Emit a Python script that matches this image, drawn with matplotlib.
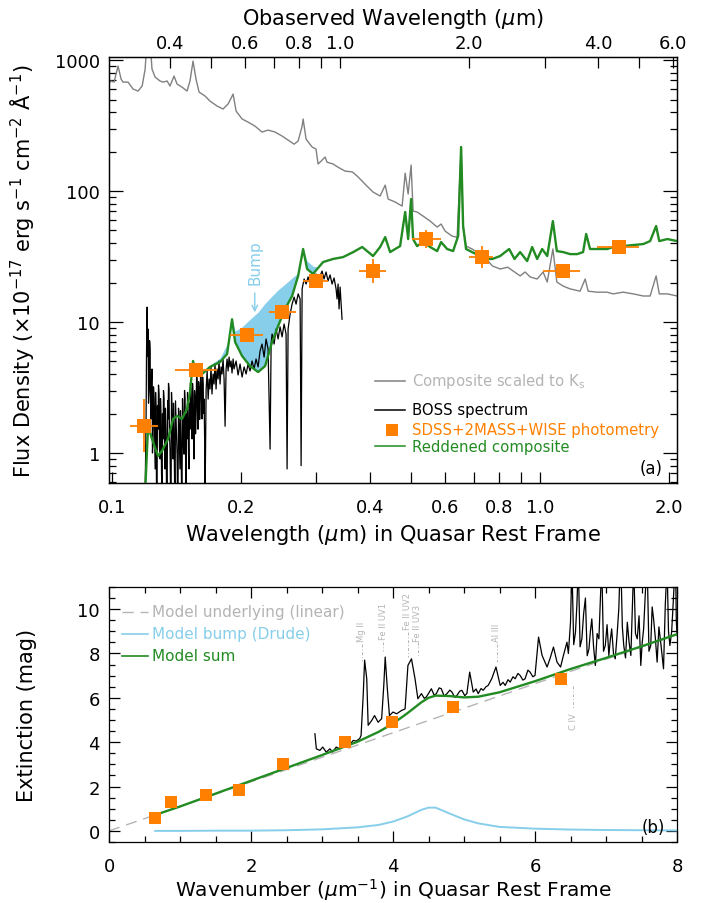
import numpy as np
import matplotlib.pyplot as plt
from matplotlib.ticker import FixedLocator, NullFormatter, NullLocator, MultipleLocator

plt.rcParams['font.family'] = ['DejaVu Sans']
plt.rcParams['axes.linewidth'] = 0.9

GREEN = '#228b22'
ORANGE = '#ff8000'
SKY = '#87ceeb'
GREY = '#808080'
LIGHT = '#b4b4b4'

z_qso = 1.93

# composite quasar spectrum scaled to Ks (rest wavelength in micron)
comp_wl = [0.0979, 0.0995, 0.1011, 0.1033, 0.1050, 0.1061, 0.1090, 0.1120, 0.1150, 0.1176,
           0.1195, 0.1208, 0.1227, 0.1240, 0.1261, 0.1295, 0.1316, 0.1345, 0.1366, 0.1396,
           0.1419, 0.1457, 0.1497, 0.1521, 0.1546, 0.1571, 0.1597, 0.1650, 0.1694, 0.1759,
           0.1817, 0.1867, 0.1918, 0.1949, 0.2013, 0.2079, 0.2158, 0.2241, 0.2315, 0.2404,
           0.2496, 0.2578, 0.2663, 0.2721, 0.2780, 0.2795, 0.2840, 0.2933, 0.2996, 0.3029,
           0.3078, 0.3145, 0.3179, 0.3283, 0.3373, 0.3504, 0.3641, 0.3739, 0.3840, 0.3942,
           0.4071, 0.4229, 0.4346, 0.4416, 0.4586, 0.4761, 0.4839, 0.4917, 0.4996, 0.5050,
           0.5159, 0.5328, 0.5534, 0.5747, 0.5871, 0.5997, 0.6228, 0.6399, 0.6538, 0.6608,
           0.6714, 0.6933, 0.7241, 0.7489, 0.7736, 0.8064, 0.8401, 0.8713, 0.8980, 0.9225,
           0.9476, 0.9840, 1.016, 1.039, 1.071, 1.094, 1.132, 1.175, 1.240, 1.274,
           1.295, 1.359, 1.434, 1.480, 1.563, 1.650, 1.742, 1.807, 1.866, 1.898,
           1.982, 2.089]
comp_flux = [656, 692, 679, 900, 716, 679, 679, 601, 580, 634,
             853, 1500, 1400, 853, 741, 692, 679, 692, 634, 755,
             656, 622, 580, 692, 982, 716, 570, 531, 486, 446,
             423, 462, 550, 408, 355, 336, 313, 282, 292, 282,
             263, 245, 228, 241, 313, 355, 249, 217, 209, 161,
             169, 182, 166, 161, 152, 142, 140, 130, 119, 109,
             98.3, 91.6, 111, 86.9, 82.4, 76.8, 137, 94.9, 158, 70.3,
             69.2, 64.4, 59.0, 53.1, 56.0, 49.5, 45.3, 44.3, 209, 54.1,
             38.0, 36.1, 33.0, 30.3, 26.8, 25.4, 26.2, 24.1, 22.5, 24.1,
             22.1, 21.3, 24.1, 20.2, 36.1, 20.2, 18.8, 17.9, 17.2, 21.3,
             17.2, 16.9, 16.9, 16.4, 16.9, 16.4, 15.8, 15.8, 22.5, 16.4,
             16.4, 15.8]

# BOSS spectrum
boss_wl = [0.1195, 0.1198, 0.1201, 0.1204, 0.1208, 0.1211, 0.1214, 0.1217, 0.1221, 0.1224,
           0.1227, 0.1230, 0.1234, 0.1237, 0.1240, 0.1243, 0.1247, 0.1250, 0.1254, 0.1257,
           0.1261, 0.1264, 0.1267, 0.1270, 0.1274, 0.1277, 0.1281, 0.1284, 0.1288, 0.1291,
           0.1295, 0.1298, 0.1302, 0.1305, 0.1309, 0.1312, 0.1316, 0.1319, 0.1323, 0.1326,
           0.1330, 0.1333, 0.1337, 0.1341, 0.1345, 0.1349, 0.1352, 0.1355, 0.1359, 0.1362,
           0.1366, 0.1370, 0.1374, 0.1377, 0.1381, 0.1385, 0.1389, 0.1392, 0.1396, 0.1400,
           0.1404, 0.1407, 0.1411, 0.1415, 0.1419, 0.1422, 0.1426, 0.1430, 0.1434, 0.1438,
           0.1441, 0.1445, 0.1449, 0.1453, 0.1457, 0.1461, 0.1465, 0.1469, 0.1473, 0.1477,
           0.1481, 0.1485, 0.1489, 0.1493, 0.1497, 0.1501, 0.1505, 0.1509, 0.1513, 0.1517,
           0.1521, 0.1525, 0.1529, 0.1534, 0.1538, 0.1542, 0.1546, 0.1550, 0.1554, 0.1559,
           0.1563, 0.1567, 0.1571, 0.1576, 0.1580, 0.1584, 0.1588, 0.1593, 0.1597, 0.1602,
           0.1606, 0.1610, 0.1614, 0.1619, 0.1623, 0.1628, 0.1632, 0.1637, 0.1641, 0.1646,
           0.1650, 0.1659, 0.1668, 0.1677, 0.1686, 0.1694, 0.1703, 0.1712, 0.1722, 0.1731,
           0.1740, 0.1750, 0.1759, 0.1769, 0.1778, 0.1788, 0.1798, 0.1807, 0.1817, 0.1827,
           0.1837, 0.1847, 0.1857, 0.1867, 0.1877, 0.1887, 0.1897, 0.1907, 0.1918, 0.1928,
           0.1949, 0.1970, 0.1991, 0.2013, 0.2035, 0.2057, 0.2079, 0.2101, 0.2124, 0.2147,
           0.2170, 0.2194, 0.2217, 0.2241, 0.2266, 0.2290, 0.2315, 0.2340, 0.2353, 0.2365,
           0.2391, 0.2417, 0.2443, 0.2469, 0.2496, 0.2523, 0.2550, 0.2564, 0.2578, 0.2606,
           0.2634, 0.2663, 0.2691, 0.2721, 0.2750, 0.2765, 0.2780, 0.2810, 0.2840, 0.2871,
           0.2901, 0.2933, 0.2964, 0.2996, 0.3029, 0.3062, 0.3095, 0.3128, 0.3162, 0.3196,
           0.3231, 0.3266, 0.3301, 0.3337, 0.3355, 0.3373, 0.3391, 0.3410, 0.3428, 0.3446]
boss_flux = [0.5, 0.9, 1.82, 6.0, 13.0, 5.5, 8.85, 2.4, 3.08, 7.2,
             6.22, 2.9, 1.82, 3.5, 4.38, 1.0, 1.28, 3.2, 2.58, 1.6,
             0.755, 2.9, 2.17, 0.6, 0.5, 2.3, 1.52, 3.3, 2.82, 1.1,
             0.90, 2.6, 1.82, 0.7, 0.5, 2.0, 1.28, 3.0, 2.58, 1.2,
             0.755, 2.2, 1.52, 0.5, 0.5, 2.5, 1.82, 3.4, 3.08, 1.4,
             1.07, 0.5, 0.5, 2.9, 2.17, 1.2, 0.90, 2.4, 1.52, 0.6,
             0.5, 2.5, 1.82, 1.3, 0.98, 0.5, 0.5, 2.2, 1.66, 1.0,
             0.755, 2.1, 1.28, 0.6, 0.5, 2.6, 1.82, 1.1, 0.98, 3.0,
             2.58, 1.0, 0.5, 2.0, 1.28, 2.9, 1.98, 1.0, 0.755, 2.4,
             1.52, 3.4, 3.08, 1.6, 1.28, 3.4, 2.82, 1.4, 0.90, 3.0,
             2.58, 1.4, 1.82, 3.9, 3.67, 2.0, 1.52, 3.5, 3.08, 1.8,
             2.17, 4.2, 4.01, 2.4, 1.82, 3.8, 3.36, 2.0, 2.58, 1.2,
             0.5, 3.08, 4.23, 2.58, 3.67, 3.08, 4.54, 2.82, 4.01, 3.36,
             4.78, 3.08, 4.38, 3.67, 5.04, 3.36, 4.54, 4.01, 5.22, 3.67,
             1.60, 4.38, 5.22, 4.23, 5.40, 4.54, 5.04, 4.08, 5.22, 4.38,
             5.04, 3.94, 4.78, 3.80, 4.54, 4.01, 4.78, 4.23, 5.04, 4.38,
             5.22, 4.54, 6.00, 6.79, 5.40, 7.42, 6.22, 1.07, 6.79, 8.10,
             6.79, 8.85, 7.42, 9.18, 7.7, 9.66, 8.10, 0.755, 8.85, 11.5,
             13.7, 15.5, 13.7, 16.4, 15.0, 0.80, 17.9, 21.3, 19.5, 22.1,
             19.5, 22.9, 20.6, 23.3, 20.2, 22.5, 24.5, 21.3, 24.1, 20.6,
             22.9, 19.5, 21.7, 17.9, 15.0, 19.5, 12.6, 18.5, 13.7, 10.5]

# reddened composite
red_wl = [0.1195, 0.1214, 0.1240, 0.1281, 0.1309, 0.1352, 0.1389, 0.1419, 0.1457, 0.1497,
          0.1521, 0.1546, 0.1580, 0.1623, 0.1694, 0.1788, 0.1857, 0.1907, 0.1939, 0.2013,
          0.2101, 0.2194, 0.2278, 0.2365, 0.2443, 0.2537, 0.2634, 0.2721, 0.2795, 0.2856,
          0.2948, 0.3112, 0.3283, 0.3464, 0.3660, 0.3840, 0.4071, 0.4229, 0.4346, 0.4462,
          0.4586, 0.4709, 0.4839, 0.4917, 0.4996, 0.5050, 0.5159, 0.5328, 0.5534, 0.5747,
          0.5871, 0.6064, 0.6261, 0.6434, 0.6538, 0.6608, 0.6714, 0.6933, 0.7241, 0.7489,
          0.7736, 0.8064, 0.8466, 0.8713, 0.8980, 0.9327, 0.9580, 0.9840, 1.011, 1.039,
          1.071, 1.094, 1.132, 1.175, 1.220, 1.260, 1.281, 1.308, 1.359, 1.434,
          1.480, 1.563, 1.650, 1.742, 1.807, 1.866, 1.898, 1.982, 2.089]
red_flux = [0.5, 1.61, 1.28, 0.948, 1.04, 1.28, 1.82, 1.92, 1.82, 2.17,
            2.92, 5.04, 3.87, 4.01, 4.54, 4.95, 5.70, 10.5, 7.03, 5.50,
            4.61, 4.15, 4.61, 7.03, 9.32, 12.6, 15.8, 22.5, 36.1, 25.4,
            23.3, 28.7, 30.3, 31.3, 34.2, 37.4, 31.9, 37.4, 44.5, 34.2,
            36.1, 38.0, 69.2, 43.0, 86.9, 43.0, 38.0, 40.8, 37.4, 34.8,
            40.8, 36.1, 34.8, 45.3, 217, 54.1, 36.1, 34.2, 31.9, 30.3,
            30.3, 31.9, 36.1, 30.3, 34.2, 29.2, 37.4, 30.3, 36.1, 31.9,
            59.0, 34.8, 34.2, 33.0, 33.0, 34.2, 47.0, 36.1, 36.1, 36.1,
            37.4, 38.0, 38.7, 39.4, 41.5, 54.1, 41.5, 43.0, 41.5]

# 2175A bump region: composite without bump (upper) vs reddened composite (lower)
bump_wl = [0.1694, 0.1788, 0.1857, 0.1907, 0.1939, 0.2013, 0.2101, 0.2194, 0.2278, 0.2365,
           0.2443, 0.2537, 0.2634, 0.2721, 0.2795, 0.2856, 0.2948, 0.3029]
bump_lower = [4.54, 4.95, 5.70, 10.5, 7.03, 5.50, 4.61, 4.15, 4.61, 7.03,
              9.32, 12.6, 15.8, 22.5, 36.1, 25.4, 23.3, 26.2]
bump_upper = [4.70, 5.31, 6.79, 10.5, 8.54, 9.18, 10.5, 11.9, 13.9, 15.8,
              17.6, 19.5, 21.7, 23.7, 36.1, 29.2, 26.7, 26.2]

# SDSS + 2MASS + WISE photometry
phot_wl = [0.1188, 0.1571, 0.2068, 0.2496, 0.2996, 0.4071, 0.5416, 0.7319, 1.132, 1.530]
phot_wl_lo = [0.1102, 0.1404, 0.1887, 0.2328, 0.2795, 0.3776, 0.5023, 0.6825, 1.016, 1.359]
phot_wl_hi = [0.1281, 0.1759, 0.2253, 0.2691, 0.3196, 0.4370, 0.5871, 0.7766, 1.240, 1.703]
phot_flux = [1.61, 4.30, 7.95, 11.9, 20.6, 24.5, 43.0, 31.3, 24.5, 37.3]
phot_flux_lo = [1.02, 4.10, 7.60, 11.4, 19.8, 19.9, 36.7, 25.8, 23.5, 36.0]
phot_flux_hi = [2.58, 4.50, 8.30, 12.4, 21.4, 30.3, 50.4, 38.1, 25.5, 38.6]

# extinction curve (panel b)
ext_spec_wn = [2.90, 2.92, 2.97, 3.01, 3.06, 3.11, 3.15, 3.20, 3.25, 3.30,
               3.34, 3.39, 3.44, 3.48, 3.53, 3.55, 3.58, 3.60, 3.63, 3.65,
               3.70, 3.74, 3.79, 3.84, 3.87, 3.89, 3.92, 3.95, 4.00, 4.05,
               4.12, 4.17, 4.21, 4.26, 4.31, 4.35, 4.40, 4.44, 4.47, 4.51,
               4.54, 4.58, 4.61, 4.65, 4.68, 4.72, 4.76, 4.80, 4.83, 4.87,
               4.90, 4.94, 4.97, 5.01, 5.04, 5.08, 5.13, 5.17, 5.20, 5.24,
               5.27, 5.31, 5.34, 5.39, 5.45, 5.51, 5.55, 5.58, 5.62, 5.65,
               5.69, 5.72, 5.76, 5.79, 5.83, 5.86, 5.90, 5.93, 5.97, 6.00,
               6.05, 6.10, 6.17, 6.21, 6.26, 6.31, 6.36, 6.40, 6.45, 6.47,
               6.50, 6.51, 6.52, 6.545, 6.57, 6.59, 6.61, 6.635, 6.66, 6.685,
               6.71, 6.735, 6.76, 6.78, 6.80, 6.825, 6.85, 6.875, 6.90, 6.92,
               6.94, 6.965, 6.99, 7.015, 7.04, 7.06, 7.08, 7.105, 7.13, 7.155,
               7.18, 7.195, 7.21, 7.23, 7.25, 7.275, 7.30, 7.325, 7.35, 7.37,
               7.39, 7.415, 7.44, 7.465, 7.49, 7.51, 7.53, 7.555, 7.58, 7.605,
               7.63, 7.65, 7.67, 7.695, 7.72, 7.745, 7.77, 7.79, 7.81, 7.835,
               7.86, 7.88, 7.90, 7.925, 7.95, 7.965, 7.98, 7.99, 8.00]
ext_spec_mag = [4.38, 3.70, 3.63, 3.78, 3.55, 3.70, 3.56, 3.78, 3.70, 3.86,
                3.93, 3.88, 4.08, 4.05, 4.16, 4.30, 6.10, 7.70, 6.86, 4.76,
                4.98, 5.20, 4.90, 5.06, 6.56, 7.84, 6.41, 5.20, 5.36, 5.28,
                5.43, 5.50, 7.46, 7.76, 6.86, 5.96, 6.19, 5.98, 6.04, 6.25,
                6.41, 6.12, 6.19, 6.45, 6.41, 6.08, 6.19, 6.35, 6.26, 6.02,
                6.11, 6.30, 6.34, 6.10, 6.19, 7.16, 6.26, 6.40, 6.19, 6.42,
                6.34, 6.50, 6.56, 6.86, 7.39, 6.56, 6.70, 6.56, 6.82, 6.71,
                6.95, 6.86, 7.10, 7.01, 6.80, 6.86, 7.25, 7.16, 6.95, 7.01,
                8.74, 7.91, 7.39, 7.76, 8.29, 7.61, 7.39, 7.91, 8.51, 8.00,
                9.41, 10.8, 12.0, 8.40, 8.96, 10.2, 12.0, 8.30, 8.66, 9.80,
                10.5, 7.90, 8.21, 9.00, 9.56, 8.30, 7.46, 8.90, 8.66, 10.4,
                12.0, 8.10, 8.36, 9.30, 7.91, 8.60, 9.11, 8.00, 7.76, 8.80,
                10.0, 11.5, 12.0, 9.20, 8.36, 7.80, 9.41, 8.50, 7.91, 10.0,
                12.0, 8.90, 8.66, 9.70, 7.46, 8.50, 9.11, 10.8, 12.0, 8.10,
                8.36, 10.1, 9.56, 8.70, 7.61, 9.20, 8.51, 7.90, 7.31, 10.2,
                12.0, 9.00, 8.36, 9.00, 10.5, 11.5, 12.0, 9.50, 8.81]

ext_phot_wn = [0.645, 0.87, 1.37, 1.83, 2.45, 3.33, 3.98, 4.84, 6.36]
ext_phot_mag = [0.59, 1.31, 1.64, 1.86, 3.03, 4.01, 4.91, 5.59, 6.86]

linear_wn = [0.0, 8.0]
linear_mag = [0.0, 8.85]

model_wn = [0.65, 1.0, 1.5, 2.0, 2.5, 3.0, 3.5, 3.8, 4.0, 4.2, 4.4,
            4.5, 4.6, 4.8, 5.0, 5.2, 5.5, 6.0, 6.5, 7.0, 7.5, 8.0]
model_bump = [0.0, 0.0, 0.01, 0.01, 0.03, 0.07, 0.16, 0.27, 0.42, 0.65, 0.95,
              1.05, 1.05, 0.78, 0.52, 0.34, 0.18, 0.10, 0.06, 0.04, 0.03, 0.02]
model_sum = [0.72, 1.10, 1.68, 2.26, 2.84, 3.42, 4.02, 4.47, 4.84, 5.30, 5.80,
             6.00, 6.10, 6.08, 6.02, 6.05, 6.25, 6.75, 7.30, 7.80, 8.32, 8.87]

line_names = ['Mg II', 'Fe II UV1', 'Fe II UV2', 'Fe II UV3', 'Al III', 'C IV']
line_wn = [3.56, 3.86, 4.21, 4.35, 5.46, 6.54]

x_ticks = [0.1, 0.2, 0.3, 0.4, 0.5, 0.6, 0.7, 0.8, 0.9, 1.0, 2.0]
x_ticklabels = ['0.1', '0.2', '', '0.4', '', '0.6', '', '0.8', '', '1.0', '2.0']
obs_ticks = [0.4, 0.5, 0.6, 0.7, 0.8, 0.9, 1.0, 2.0, 3.0, 4.0, 5.0, 6.0]
obs_ticklabels = ['0.4', '', '0.6', '', '0.8', '', '1.0', '2.0', '', '4.0', '', '6.0']

fig = plt.figure(figsize=(7.02, 9.04), dpi=100)
ax = fig.add_axes([0.1553, 0.4646, 0.8091, 0.4712])
ax2 = fig.add_axes([0.1553, 0.0675, 0.8091, 0.2821])

# ---- panel (a): spectra ----
ax.set_xscale('log')
ax.set_yscale('log')
ax.plot(comp_wl, comp_flux, color=GREY, lw=1.0, zorder=2)
ax.fill_between(bump_wl, bump_lower, bump_upper, color=SKY, lw=0, zorder=2)
ax.plot(boss_wl, boss_flux, color='k', lw=0.9, zorder=3)
ax.plot(red_wl, red_flux, color=GREEN, lw=1.7, zorder=4)

pw = np.array(phot_wl)
pf = np.array(phot_flux)
ax.errorbar(pw, pf,
            xerr=[pw - np.array(phot_wl_lo), np.array(phot_wl_hi) - pw],
            yerr=[pf - np.array(phot_flux_lo), np.array(phot_flux_hi) - pf],
            fmt='s', color=ORANGE, ms=9.5, mew=0, elinewidth=1.3,
            capsize=2.5, capthick=1.3, zorder=5)

ax.annotate('', xy=(0.2155, 11.3), xytext=(0.2155, 17.5),
            arrowprops=dict(arrowstyle='->', color=SKY, lw=1.0))
ax.text(0.2158, 29.0, 'Bump', color=SKY, fontsize=11, rotation=90,
        ha='center', va='center')

ax.set_xlim(0.0984, 2.088)
ax.set_ylim(0.59, 1055)
ax.set_xticks(x_ticks)
ax.set_xticklabels(x_ticklabels)
ax.xaxis.set_minor_locator(NullLocator())
ax.set_yticks([1, 10, 100, 1000])
ax.set_yticklabels(['1', '10', '100', '1000'])
ax.yaxis.set_minor_locator(FixedLocator(
    [m * d for d in (0.1, 1, 10, 100, 1000) for m in range(2, 10)]))
ax.yaxis.set_minor_formatter(NullFormatter())

top = ax.twiny()
top.set_xscale('log')
top.set_xlim(0.0984 * (1 + z_qso), 2.088 * (1 + z_qso))
top.set_xticks(obs_ticks)
top.set_xticklabels(obs_ticklabels)
top.xaxis.set_minor_locator(NullLocator())
top.tick_params(which='both', direction='in', length=8, width=0.9,
                labelsize=13, pad=3.5)

ax.tick_params(which='both', direction='in', top=False, right=True, width=0.9, labelsize=13)
ax.tick_params(axis='x', which='major', length=8, pad=11)
ax.tick_params(axis='y', which='major', length=10, pad=6.5)
ax.tick_params(axis='y', which='minor', length=5)

ax.set_xlabel('Wavelength ($\\mu$m) in Quasar Rest Frame', fontsize=15)
ax.xaxis.set_label_coords(0.5, -0.0915)
ax.set_ylabel('Flux Density (\u00d710$^{-17}$ erg s$^{-1}$ cm$^{-2}$ \u00c5$^{-1}$)', fontsize=15)
ax.yaxis.set_label_coords(-0.127, 0.5)
top.set_xlabel('Obaserved Wavelength ($\\mu$m)', fontsize=15)
top.xaxis.set_label_coords(0.5, 1.077)

# legend for panel (a)
leg_a = [('Composite scaled to K$_{\\mathrm{s}}$', GREY, LIGHT, 0.240, 'line'),
         ('BOSS spectrum', 'k', 'k', 0.172, 'line'),
         ('SDSS+2MASS+WISE photometry', ORANGE, ORANGE, 0.125, 'square'),
         ('Reddened composite', GREEN, GREEN, 0.086, 'line')]
for label, mcol, tcol, yy, kind in leg_a:
    if kind == 'line':
        ax.plot([0.468, 0.521], [yy, yy], color=mcol, lw=1.1, transform=ax.transAxes)
    else:
        ax.plot([0.498], [yy], 's', color=mcol, ms=9, mew=0, transform=ax.transAxes)
    ax.text(0.533, yy, label, color=tcol, fontsize=10.7, va='center', ha='left',
            transform=ax.transAxes)
ax.text(0.975, 0.035, '(a)', fontsize=12, ha='right', va='center', transform=ax.transAxes)

# ---- panel (b): extinction curve ----
ax2.plot(linear_wn, linear_mag, color=LIGHT, lw=1.0, dashes=(8, 5), zorder=1)
ax2.plot(ext_spec_wn, ext_spec_mag, color='k', lw=0.9, zorder=2)
ax2.plot(model_wn, model_bump, color=SKY, lw=1.4, zorder=3)
ax2.plot(model_wn, model_sum, color=GREEN, lw=1.7, zorder=4)
ax2.plot(ext_phot_wn, ext_phot_mag, 's', color=ORANGE, ms=8.5, mew=0, zorder=5)

# emission line markers
upper_ids = [(8.56, 8.42, 7.66), (8.65, 8.50, 8.10), (9.10, 8.96, 7.84),
             (8.56, 8.50, 7.84), (8.56, 8.42, 7.60)]
for name, wn, (tb, d0, d1) in zip(line_names[:5], line_wn[:5], upper_ids):
    ax2.text(wn, tb, name, rotation=90, fontsize=6, color=LIGHT, ha='center', va='bottom')
    ax2.plot([wn, wn], [d0, d1], color=LIGHT, lw=0.7, dashes=(3, 2, 1, 2))
ax2.plot([line_wn[5], line_wn[5]], [6.53, 5.50], color=LIGHT, lw=0.7, dashes=(3, 2, 1, 2))
ax2.text(line_wn[5], 5.36, line_names[5], rotation=90, fontsize=6, color=LIGHT,
         ha='center', va='top')

ax2.set_xlim(0, 8)
ax2.set_ylim(-0.5, 11)
ax2.xaxis.set_major_locator(MultipleLocator(2))
ax2.xaxis.set_minor_locator(MultipleLocator(0.5))
ax2.yaxis.set_major_locator(MultipleLocator(2))
ax2.yaxis.set_minor_locator(MultipleLocator(0.5))
ax2.tick_params(which='both', direction='in', top=True, right=True, width=0.9, labelsize=13)
ax2.tick_params(which='major', length=8)
ax2.tick_params(which='minor', length=4)
ax2.tick_params(axis='x', which='major', pad=10.5)
ax2.tick_params(axis='y', which='major', pad=6.5)

ax2.set_xlabel('Wavenumber ($\\mu$m$^{-1}$) in Quasar Rest Frame', fontsize=14.5)
ax2.xaxis.set_label_coords(0.5, -0.132)
ax2.set_ylabel('Extinction (mag)', fontsize=15)
ax2.yaxis.set_label_coords(-0.127, 0.5)

leg_b = [('Model underlying (linear)', LIGHT, 0.903, (8, 5)),
         ('Model bump (Drude)', SKY, 0.816, None),
         ('Model sum', GREEN, 0.731, None)]
for label, col, yy, dash in leg_b:
    if dash:
        ax2.plot([0.022, 0.069], [yy, yy], color=col, lw=1.0, dashes=dash,
                 transform=ax2.transAxes)
    else:
        ax2.plot([0.022, 0.069], [yy, yy], color=col, lw=1.2, transform=ax2.transAxes)
    ax2.text(0.075, yy, label, color=col, fontsize=11, va='center', ha='left',
             transform=ax2.transAxes)
ax2.text(0.979, 0.058, '(b)', fontsize=12, ha='right', va='center', transform=ax2.transAxes)

fig.savefig('out.png', dpi=100)
